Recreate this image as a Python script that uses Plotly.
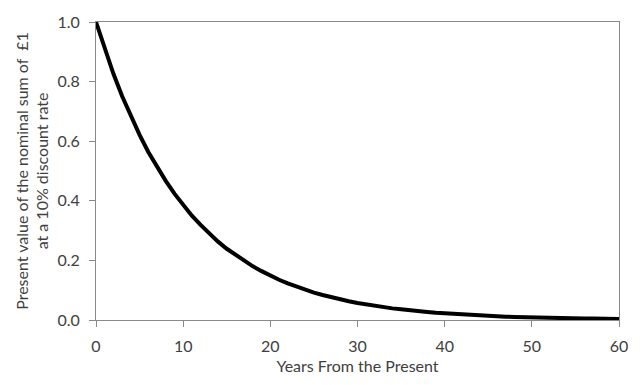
import plotly.graph_objects as go

years = list(range(0, 61))
present_value = [1.000, 0.909, 0.826, 0.751, 0.683, 0.621, 0.564, 0.513, 0.467, 0.424,
                 0.386, 0.350, 0.319, 0.290, 0.263, 0.239, 0.218, 0.198, 0.180, 0.164,
                 0.149, 0.135, 0.123, 0.112, 0.102, 0.092, 0.084, 0.076, 0.069, 0.063,
                 0.057, 0.052, 0.047, 0.043, 0.039, 0.036, 0.032, 0.029, 0.027, 0.024,
                 0.022, 0.020, 0.018, 0.017, 0.015, 0.014, 0.012, 0.011, 0.010, 0.009,
                 0.009, 0.008, 0.007, 0.006, 0.006, 0.005, 0.005, 0.005, 0.004, 0.004,
                 0.003]
x_ticks = [0, 10, 20, 30, 40, 50, 60]
y_ticks = [0.0, 0.2, 0.4, 0.6, 0.8, 1.0]
y_tick_labels = ["0.0", "0.2", "0.4", "0.6", "0.8", "1.0"]

fig = go.Figure()
fig.add_trace(go.Scatter(x=years, y=present_value, mode="lines",
                         line=dict(color="black", width=4), showlegend=False))

font = dict(family="Lato, Open Sans, sans-serif", size=16, color="#404040")
fig.update_layout(
    width=640, height=385,
    margin=dict(l=96, r=20, t=16, b=65),
    paper_bgcolor="white", plot_bgcolor="white",
    font=font,
    xaxis=dict(range=[0, 60], tickvals=x_ticks, showgrid=False, zeroline=False,
               showline=True, linecolor="#888888", linewidth=1, mirror=True,
               ticks="outside", ticklen=6, tickcolor="#888888",
               tickfont=font, ticklabelstandoff=6,
               title=dict(text="Years From the Present", font=font, standoff=6)),
    yaxis=dict(range=[0, 1.0], tickvals=y_ticks, ticktext=y_tick_labels,
               showgrid=False, zeroline=False,
               showline=True, linecolor="#888888", linewidth=1, mirror=True,
               ticks="outside", ticklen=6, tickcolor="#888888",
               tickfont=font, ticklabelstandoff=6,
               title=dict(text="Present value of the nominal sum of  £1<br>at a 10% discount rate",
                          font=font, standoff=4)),
)

fig.write_html("out.html")
